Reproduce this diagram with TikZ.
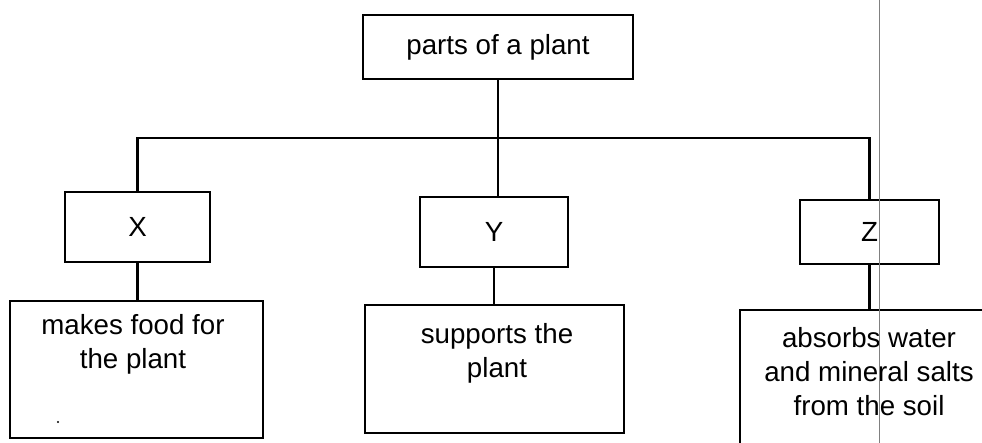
\documentclass[tikz,border=0pt]{standalone}
\usepackage{fontspec}
\setmainfont{Liberation Sans}
\usetikzlibrary{positioning,calc}
\begin{document}
\begin{tikzpicture}[x=1pt,y=-1pt,
  kasten/.style={draw,line width=2.2pt,inner sep=0pt},
  schrift/.style={font=\fontsize{27.7}{34}\selectfont},
  textblock/.style={schrift,align=center,anchor=north,inner sep=0pt},
  linie/.style={line width=2.2pt}]
\useasboundingbox (0,0) rectangle (982,443);
\clip (0,0) rectangle (982,443);
%Oberster Kasten
\node[kasten,schrift,minimum width=270pt,minimum height=64pt] (pflanze) at (498,47) {parts of a plant};
%Mittlere Reihe
\node[kasten,schrift,minimum width=145pt,minimum height=70pt] (X) at (137.5,227) {X};
\node[kasten,schrift,minimum width=148pt,minimum height=70pt] (Y) at (494,232) {Y};
\node[kasten,schrift,minimum width=139pt,minimum height=64pt] (Z) at (869.5,232) {Z};
%Untere Reihe, Text oben im Kasten
\node[kasten,minimum width=253pt,minimum height=137pt] (fx) at (136.5,369.5) {};
\node[kasten,minimum width=259pt,minimum height=128pt] (fy) at (494.5,369) {};
\node[kasten,minimum width=260pt,minimum height=160pt] (fz) at (870,390) {};
\node[textblock] (fxText) at (133,314) {makes food for\\the plant};
\node[textblock] (fyText) at (497,323) {supports the\\plant};
\node[textblock] (fzText) at (869,327) {absorbs water\\and mineral salts\\from the soil};
%Verbindungen
\coordinate (knoten) at (498,138);
\draw[linie] (X.north) |- (knoten) -| (Z.north);
\draw[linie] (pflanze.south) -- (pflanze.south |- Y.north);
\draw[linie] (X.south) -- (X.south |- fx.north);
\draw[linie] (Y.south) -- (Y.south |- fy.north);
\draw[linie] (Z.south) -- (Z.south |- fz.north);
%Scanrest
\fill (58,422) circle (1.2);
\draw[gray,line width=0.6pt] (879,0) -- (879,443);
\end{tikzpicture}
\end{document}
